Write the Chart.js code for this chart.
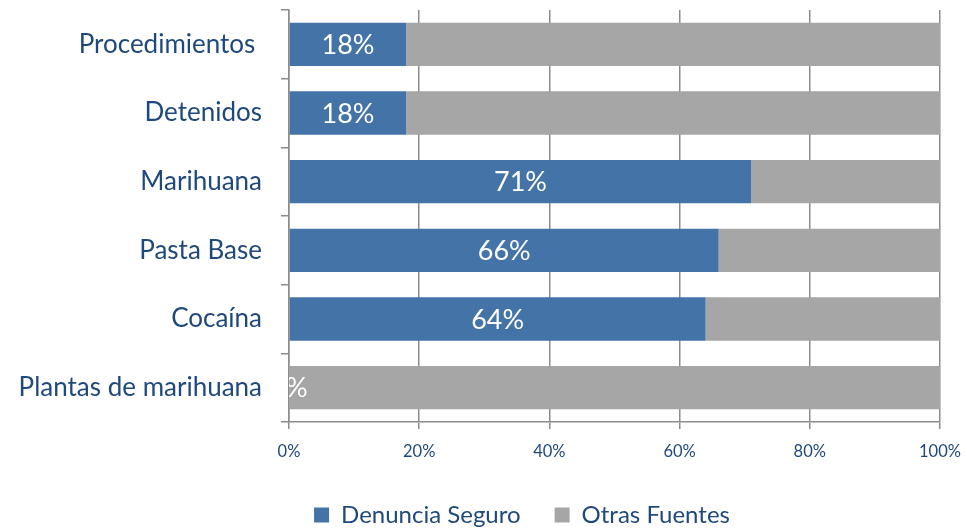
<!DOCTYPE html>
<html><head><meta charset="utf-8">
<script src="https://cdn.jsdelivr.net/npm/chart.js@4/dist/chart.umd.min.js"></script>
<style>html,body{margin:0;padding:0;background:#fff}#wrap{width:967px;height:528px}</style>
</head><body><div id="wrap"><canvas id="c" width="967" height="528"></canvas></div>
<script>
const categories = ['Procedimientos ', 'Detenidos', 'Marihuana', 'Pasta Base', 'Cocaína', 'Plantas de marihuana'];
const denunciaSeguro = [18, 18, 71, 66, 64, 0];
const otrasFuentes = [82, 82, 29, 34, 36, 100];
const seriesNames = ['Denuncia Seguro', 'Otras Fuentes'];

const FONT = 'Lato, "Open Sans", sans-serif';
const TEXT = '#1F497D';
const BLUE = '#4473A7';
const GRAY = '#A6A6A6';
const AXIS = '#8C8C8C';
const LEGEND_SHIFT = 52;

const labelPlugin = {
  id: 'barLabels',
  afterLayout(chart) {
    if (chart.legend) {
      chart.legend.left += LEGEND_SHIFT;
      chart.legend.right += LEGEND_SHIFT;
    }
  },
  afterDatasetsDraw(chart) {
    const ctx = chart.ctx, area = chart.chartArea;
    const meta = chart.getDatasetMeta(0);
    ctx.save();
    ctx.beginPath();
    ctx.rect(area.left, area.top, area.right - area.left, area.bottom - area.top);
    ctx.clip();
    ctx.fillStyle = '#FFFFFF';
    ctx.font = '27px ' + FONT;
    ctx.textAlign = 'center';
    ctx.textBaseline = 'middle';
    meta.data.forEach((el, i) => {
      const v = denunciaSeguro[i];
      const cx = (el.x + el.base) / 2;
      ctx.fillText(v + '%', cx, el.y + 1);
    });
    ctx.restore();
  }
};

new Chart(document.getElementById('c'), {
  type: 'bar',
  data: {
    labels: categories,
    datasets: [
      { label: seriesNames[0], data: denunciaSeguro, backgroundColor: BLUE, borderWidth: 0, barPercentage: 0.63, categoryPercentage: 1 },
      { label: seriesNames[1], data: otrasFuentes, backgroundColor: GRAY, borderWidth: 0, barPercentage: 0.63, categoryPercentage: 1 }
    ]
  },
  options: {
    indexAxis: 'y',
    responsive: false,
    animation: false,
    layout: { padding: { top: 10, right: 27, left: 0, bottom: -9 } },
    plugins: {
      legend: {
        position: 'bottom',
        labels: { boxWidth: 15, boxHeight: 15, padding: 34, color: TEXT, font: { family: FONT, size: 24 } }
      },
      tooltip: { enabled: false }
    },
    scales: {
      x: {
        stacked: true,
        min: 0, max: 100,
        ticks: { stepSize: 20, color: TEXT, padding: 13, font: { family: FONT, size: 16.5 }, callback: v => v + '%' },
        grid: { color: AXIS, lineWidth: 1.5, tickLength: 7, drawTicks: true },
        border: { color: AXIS, width: 1.5 },
        afterFit: s => { s.height = 47; s.paddingLeft = 0; s.paddingRight = 0; }
      },
      y: {
        stacked: true,
        ticks: { color: TEXT, padding: 19, font: { family: FONT, size: 26 } },
        grid: { offset: true, drawOnChartArea: false, color: AXIS, lineWidth: 1.5, tickLength: 8 },
        border: { color: AXIS, width: 1.5 },
        afterFit: s => { s.width = 289; s.paddingTop = 0; s.paddingBottom = 0; }
      }
    }
  },
  plugins: [labelPlugin]
});
</script></body></html>
